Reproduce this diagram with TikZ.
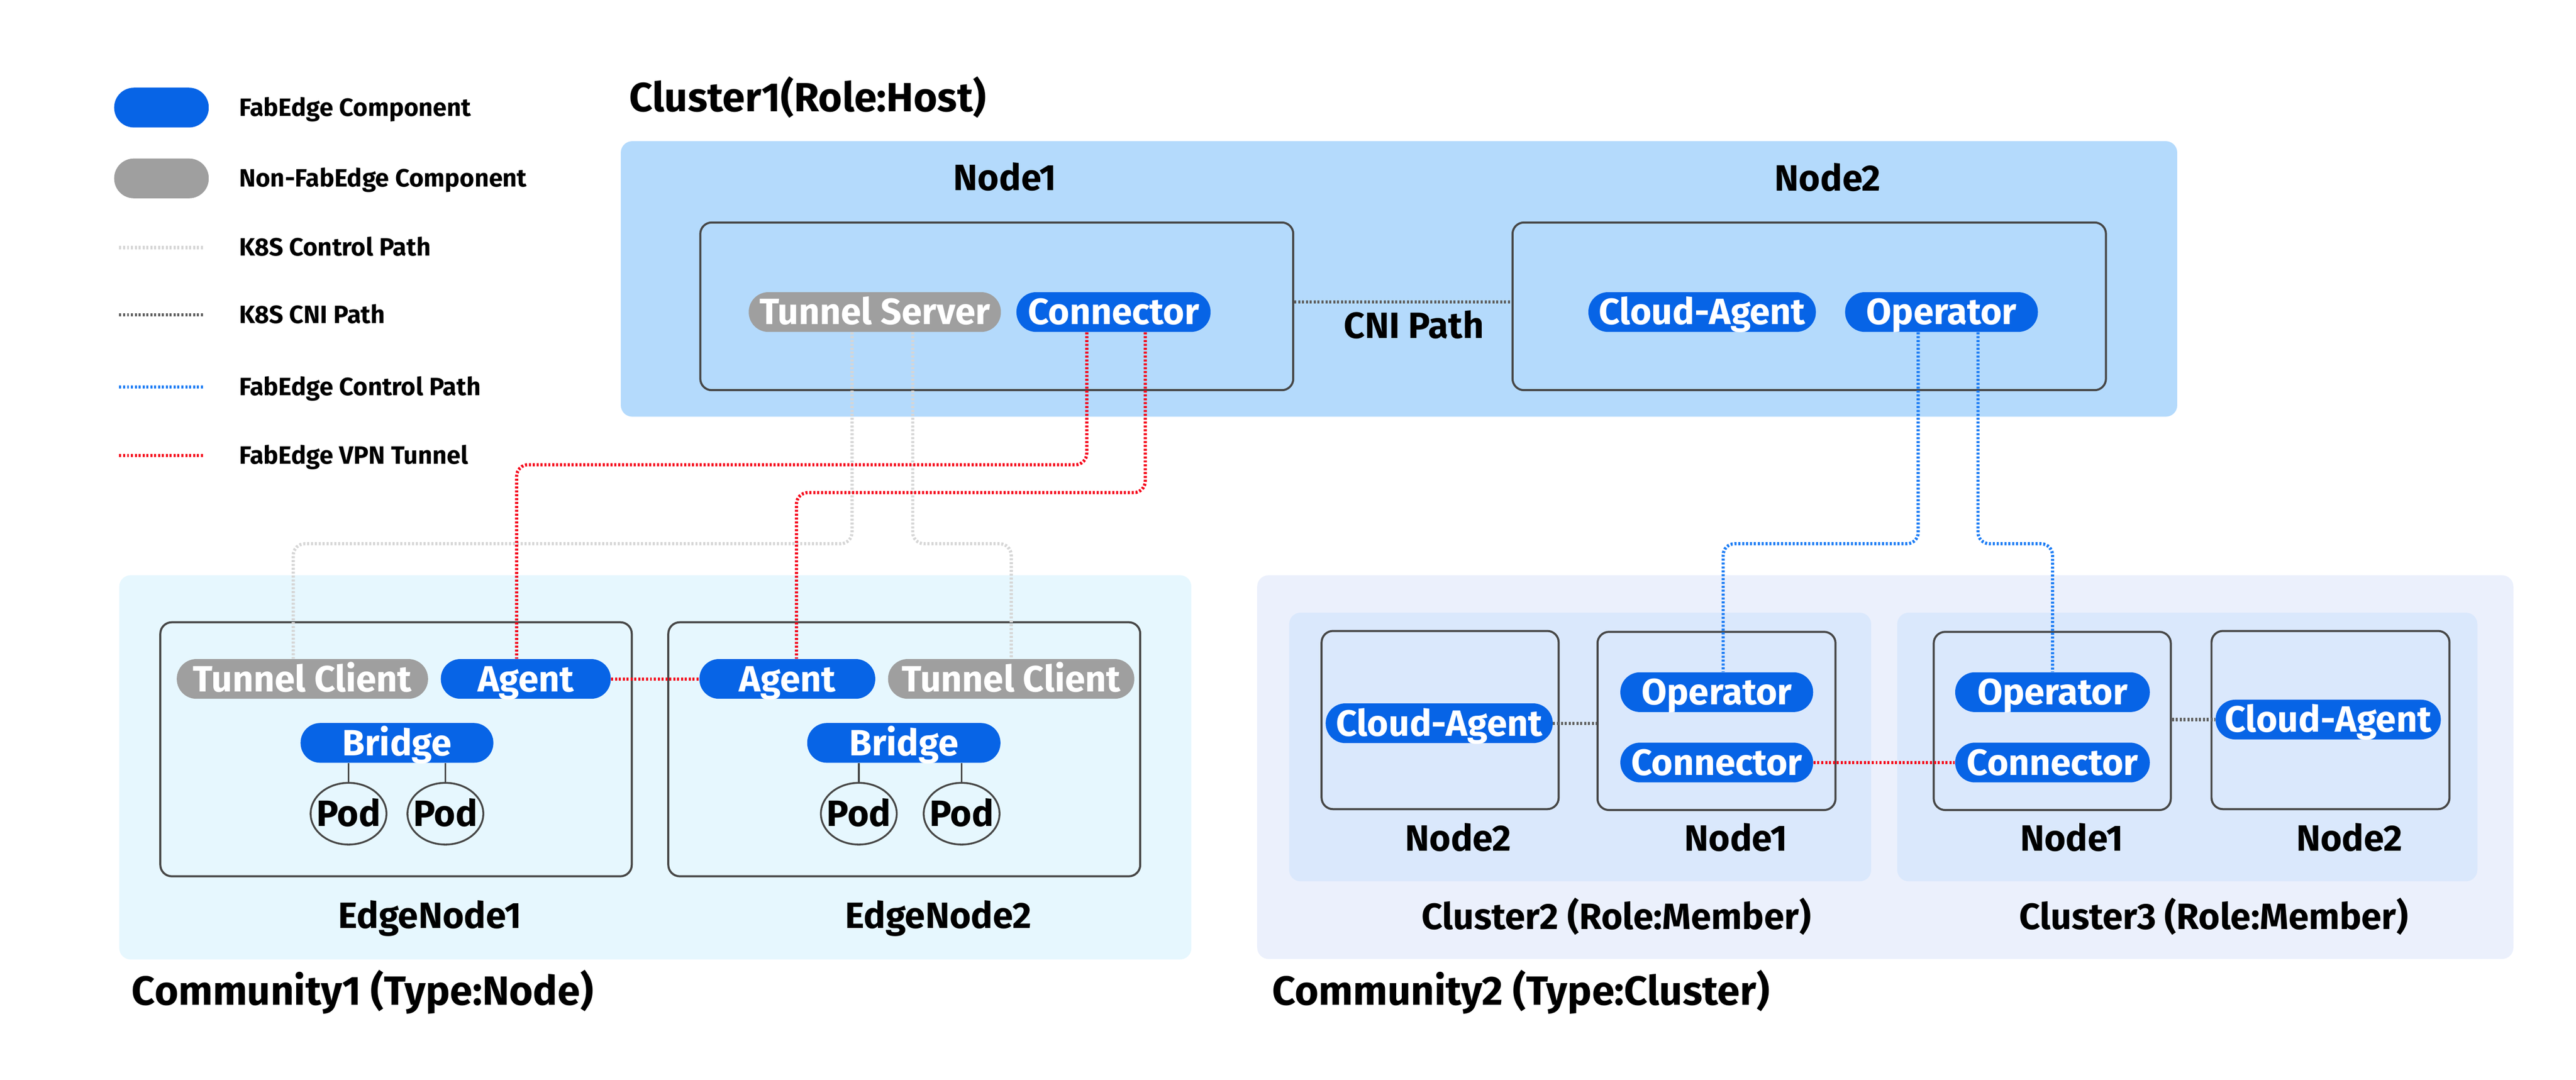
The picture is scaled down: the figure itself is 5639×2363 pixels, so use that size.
\documentclass[tikz,border=0pt]{standalone}
\usepackage{fontspec}
\setmainfont{Fira Sans}
\usetikzlibrary{shapes.geometric}

\definecolor{fabblue}{HTML}{0764E6}
\definecolor{fabgray}{HTML}{9F9F9F}
\definecolor{boxgray}{HTML}{474747}
\definecolor{ctlgray}{HTML}{D6D6D6}
\definecolor{cnigray}{HTML}{5F5F5F}
\definecolor{ctlblue}{HTML}{1C7CF4}
\definecolor{vpnred}{HTML}{F5051B}
\definecolor{hostbg}{HTML}{B4DAFC}
\definecolor{comm1bg}{HTML}{E6F7FE}
\definecolor{comm2bg}{HTML}{EBF0FC}
\definecolor{memberbg}{HTML}{DAE8FC}

\begin{document}
\begin{tikzpicture}[x=0.1mm, y=-0.1mm,
    region/.style={rounded corners=2.5mm, inner sep=0},
    nodebox/.style={draw=boxgray, line width=0.45mm, rounded corners=2.5mm, inner sep=0},
    pill/.style={rounded corners=4.3mm, minimum height=8.7mm, inner sep=0, text=white,
        font=\fontsize{22.8}{26}\selectfont\bfseries, text height=5.5mm, text depth=0mm},
    fab/.style={pill, fill=fabblue},
    nonfab/.style={pill, fill=fabgray},
    lbl/.style={inner sep=0, font=\fontsize{22.8}{26}\selectfont\bfseries, text height=5.5mm, text depth=0mm},
    grouptitle/.style={lbl, anchor=west, font=\fontsize{25.4}{29}\selectfont\bfseries},
    legtxt/.style={inner sep=0, anchor=west, font=\fontsize{15.6}{18}\selectfont\bfseries, text height=3.7mm, text depth=0mm},
    pathline/.style={line width=0.7mm, dash pattern=on 0.45mm off 0.4mm, rounded corners=2.5mm},
    k8sctl/.style={pathline, draw=ctlgray},
    cni/.style={pathline, draw=cnigray},
    fabctl/.style={pathline, draw=ctlblue},
    vpn/.style={pathline, draw=vpnred},
    pod/.style={ellipse, draw=boxgray, line width=0.4mm, minimum width=16.6mm, minimum height=13.5mm, inner sep=0},
    podlink/.style={draw=boxgray, line width=0.35mm}]
    \useasboundingbox (0,0) rectangle (5639,2363);

    % legend
    \node[fab, minimum width=20.7mm] (legfab) at (353.5,235.5) {};
    \node[nonfab, minimum width=20.7mm] (legnonfab) at (353.5,390.5) {};
    \draw[k8sctl] (261,542) -- (444,542);
    \draw[cni] (261,689) -- (444,689);
    \draw[fabctl] (261,847) -- (444,847);
    \draw[vpn] (261,997) -- (444,997);
    \node[legtxt] at (523,235.5) {FabEdge Component};
    \node[legtxt] at (523,390.5) {Non-FabEdge Component};
    \node[legtxt] at (523,542) {K8S Control Path};
    \node[legtxt] at (523,689) {K8S CNI Path};
    \node[legtxt] at (523,847) {FabEdge Control Path};
    \node[legtxt] at (523,997) {FabEdge VPN Tunnel};

    % host cluster
    \node[region, fill=hostbg, minimum width=340.7mm, minimum height=60.3mm] (cl1) at (3062.5,610.5) {};
    \node[grouptitle] at (1377,217) {Cluster1(Role:Host)};
    \node[nodebox, minimum width=129.8mm, minimum height=36.7mm] (h1box) at (2182,670.5) {};
    \node[nodebox, minimum width=129.9mm, minimum height=36.7mm] (h2box) at (3960.5,670.5) {};
    \node[lbl] at (2200,389) {Node1};
    \node[lbl] at (4001,390) {Node2};
    \node[nonfab, minimum width=55.2mm] (hts) at (1915,683) {Tunnel Server};
    \node[fab, minimum width=42.5mm] (hconn) at (2437.5,683) {Connector};
    \node[fab, minimum width=49.8mm] (hca) at (3726,683) {Cloud-Agent};
    \node[fab, minimum width=42.2mm] (hop) at (4250,683) {Operator};
    \node[lbl] at (3095,713) {CNI Path};

    % community1
    \node[region, fill=comm1bg, minimum width=234.7mm, minimum height=84.1mm] (comm1) at (1434.5,1679.5) {};
    \node[nodebox, minimum width=103.2mm, minimum height=55.6mm] (e1box) at (867,1640) {};
    \node[nodebox, minimum width=103.3mm, minimum height=55.6mm] (e2box) at (1979.5,1640) {};
    \node[nonfab, minimum width=55mm] (e1tc) at (662,1486) {Tunnel Client};
    \node[fab, minimum width=37.2mm] (e1agent) at (1151,1486) {Agent};
    \node[fab, minimum width=38.5mm] (e2agent) at (1723.5,1486) {Agent};
    \node[nonfab, minimum width=53.9mm] (e2tc) at (2213.5,1486) {Tunnel Client};
    \node[fab, minimum width=42.2mm] (e1bridge) at (869,1626) {Bridge};
    \node[fab, minimum width=42.3mm] (e2bridge) at (1978.5,1626) {Bridge};
    \node[pod] (pod1) at (763,1781) {};
    \node[pod] (pod2) at (975,1781) {};
    \node[pod] (pod3) at (1880,1781) {};
    \node[pod] (pod4) at (2105,1781) {};
    \node[lbl] at (pod1) {Pod};
    \node[lbl] at (pod2) {Pod};
    \node[lbl] at (pod3) {Pod};
    \node[lbl] at (pod4) {Pod};
    \node[lbl] at (941,2004) {EdgeNode1};
    \node[lbl] at (2054,2004) {EdgeNode2};
    \node[grouptitle] at (288,2172) {Community1 (Type:Node)};

    % community2
    \node[region, fill=comm2bg, minimum width=275mm, minimum height=84mm] (comm2) at (4127,1679) {};
    \node[region, fill=memberbg, minimum width=127.4mm, minimum height=58.8mm] (cl2) at (3459,1635) {};
    \node[region, fill=memberbg, minimum width=127mm, minimum height=58.8mm] (cl3) at (4788,1635) {};
    \node[nodebox, minimum width=51.9mm, minimum height=39mm] (c2n2box) at (3152.5,1576) {};
    \node[nodebox, minimum width=52.1mm, minimum height=39mm] (c2n1box) at (3757.5,1578) {};
    \node[nodebox, minimum width=51.9mm, minimum height=39mm] (c3n1box) at (4492.5,1578) {};
    \node[nodebox, minimum width=52.1mm, minimum height=39mm] (c3n2box) at (5101.5,1576) {};
    \node[fab, minimum width=49.7mm] (c2ca) at (3150.5,1583) {Cloud-Agent};
    \node[fab, minimum width=42.2mm] (c2op) at (3758,1515) {Operator};
    \node[fab, minimum width=42.2mm] (c2conn) at (3758,1669) {Connector};
    \node[fab, minimum width=42.6mm] (c3op) at (4493,1515) {Operator};
    \node[fab, minimum width=42.6mm] (c3conn) at (4493,1669) {Connector};
    \node[fab, minimum width=49.3mm] (c3ca) at (5096.5,1575) {Cloud-Agent};
    \node[lbl] at (3192,1835) {Node2};
    \node[lbl] at (3800,1835) {Node1};
    \node[lbl] at (4535,1835) {Node1};
    \node[lbl] at (5143,1835) {Node2};
    \node[lbl] at (3538,2006) {Cluster2 (Role:Member)};
    \node[lbl] at (4846,2006) {Cluster3 (Role:Member)};
    \node[grouptitle] at (2784,2172) {Community2 (Type:Cluster)};

    % paths
    \draw[cni] ([yshift=1mm]h1box.east) -- ([yshift=1mm]h2box.west);
    \draw[cni] (c2ca.east) -- (c2ca.east -| c2n1box.west);
    \draw[cni] (c3n1box.east |- c3ca.west) -- (c3ca.west);
    \draw[podlink] (pod1.north |- e1bridge.south) -- (pod1.north);
    \draw[podlink] (pod2.north |- e1bridge.south) -- (pod2.north);
    \draw[podlink] (pod3.north |- e2bridge.south) -- (pod3.north);
    \draw[podlink] (pod4.north |- e2bridge.south) -- (pod4.north);
    \draw[k8sctl] ([xshift=-5mm]hts.south) -- ++(0,463) -| ([xshift=-2mm]e1tc.north);
    \draw[k8sctl] ([xshift=8.3mm]hts.south) -- ++(0,463) -| (e2tc.north);
    \draw[vpn] ([xshift=-5.85mm]hconn.south) -- ++(0,290) -| ([xshift=-2mm]e1agent.north);
    \draw[vpn] ([xshift=6.95mm]hconn.south) -- ++(0,351) -| ([xshift=2mm]e2agent.north);
    \draw[vpn] (e1agent.east) -- (e2agent.west);
    \draw[vpn] (c2conn.east) -- (c3conn.west);
    \draw[fabctl] ([xshift=-5.1mm]hop.south) -- ++(0,463) -| ([xshift=1.4mm]c2op.north);
    \draw[fabctl] ([xshift=8mm]hop.south) -- ++(0,463) -| (c3op.north);
\end{tikzpicture}
\end{document}
